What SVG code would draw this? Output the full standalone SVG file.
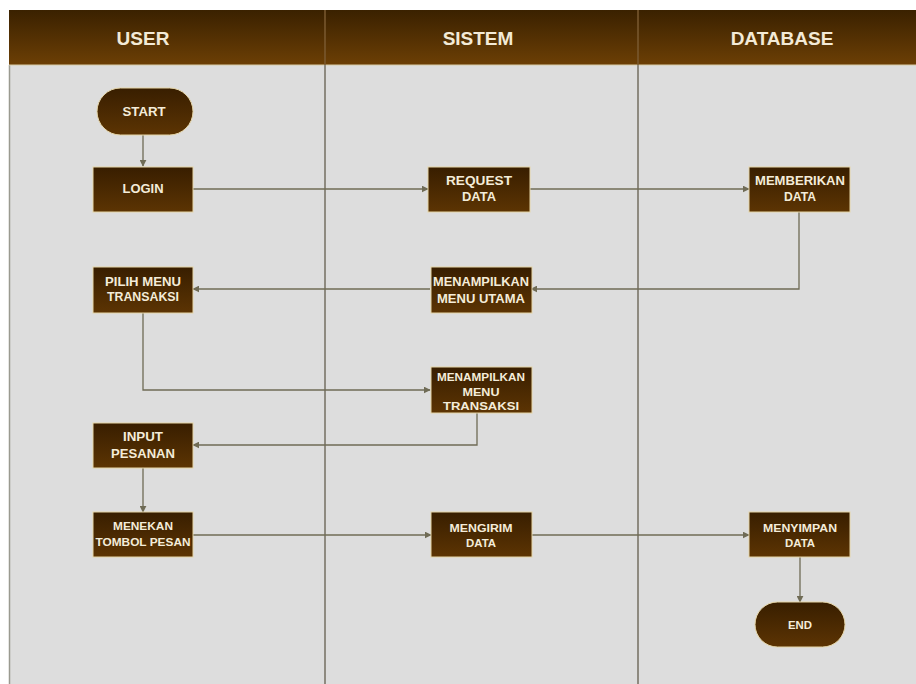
<svg xmlns="http://www.w3.org/2000/svg" width="916" height="684" viewBox="0 0 916 684">
<defs>
<linearGradient id="hdr" x1="0" y1="0" x2="0" y2="1">
<stop offset="0" stop-color="#3a2100"/>
<stop offset="1" stop-color="#6c3f05"/>
</linearGradient>
<linearGradient id="nd" x1="0" y1="0" x2="0" y2="1">
<stop offset="0" stop-color="#381e00"/>
<stop offset="1" stop-color="#5c3403"/>
</linearGradient>
<marker id="ah" viewBox="0 0 10 10" refX="9" refY="5" markerWidth="7" markerHeight="7" markerUnits="userSpaceOnUse" orient="auto">
<path d="M0,0 L10,5 L0,10 z" fill="#6f6b55"/>
</marker>
</defs>
<style>
.node{fill:url(#nd);stroke:#e6d6a8;stroke-width:1}
.lbl{font-family:"Liberation Sans",Arial,sans-serif;font-weight:bold;font-size:12px;fill:#f4ecd9;text-anchor:middle}
.sm{font-size:11px}
.hd{font-family:"Liberation Sans",Arial,sans-serif;font-weight:bold;font-size:19px;fill:#f3ead6;text-anchor:middle}
.cn{fill:none;stroke:#6f6b55;stroke-width:1.3;marker-end:url(#ah)}
.div{stroke:#8e8a80;stroke-width:2}
</style>
<rect x="0" y="0" width="916" height="684" fill="#ffffff"/>
<g id="pool">
<rect x="9" y="65" width="907" height="619" fill="#dddddd"/>
<line x1="9.5" y1="65" x2="9.5" y2="684" stroke="#9a9a90" stroke-width="1.5"/>
<rect x="9" y="10" width="907" height="55" fill="url(#hdr)"/>
<line x1="9" y1="65" x2="916" y2="65" stroke="#d8cba8" stroke-width="1.2"/>
<line x1="325" y1="10" x2="325" y2="65" stroke="#7a5a30" stroke-width="1.5"/>
<line x1="638" y1="10" x2="638" y2="65" stroke="#7a5a30" stroke-width="1.5"/>
<line class="div" x1="325" y1="65" x2="325" y2="684"/>
<line class="div" x1="638" y1="65" x2="638" y2="684"/>
<text class="hd" x="143" y="45">USER</text>
<text class="hd" x="478" y="45">SISTEM</text>
<text class="hd" x="782" y="45">DATABASE</text>
</g>
<g id="connectors">
<path class="cn" d="M143,135 L143,166"/>
<path class="cn" d="M193,189 L428,189"/>
<path class="cn" d="M530,189 L749,189"/>
<path class="cn" d="M799,212 L799,289 L531,289"/>
<path class="cn" d="M430,289 L193,289"/>
<path class="cn" d="M143,313 L143,390 L430,390"/>
<path class="cn" d="M477,413 L477,445 L193,445"/>
<path class="cn" d="M143,468 L143,512"/>
<path class="cn" d="M193,535 L431,535"/>
<path class="cn" d="M532,535 L749,535"/>
<path class="cn" d="M800,557 L800,602"/>
</g>
<g id="start">
<rect class="node" x="97" y="88" width="96" height="47" rx="23.5"/>
<text class="lbl" x="144" y="116" textLength="43" lengthAdjust="spacingAndGlyphs">START</text>
</g>
<g id="login">
<rect class="node" x="93" y="167" width="100" height="45"/>
<text class="lbl" x="143" y="193" textLength="41" lengthAdjust="spacingAndGlyphs">LOGIN</text>
</g>
<g id="request-data">
<rect class="node" x="428" y="167" width="102" height="45"/>
<text class="lbl" x="479" y="185" textLength="66" lengthAdjust="spacingAndGlyphs">REQUEST</text>
<text class="lbl" x="479" y="201" textLength="34" lengthAdjust="spacingAndGlyphs">DATA</text>
</g>
<g id="memberikan-data">
<rect class="node" x="749" y="167" width="101" height="45"/>
<text class="lbl" x="800" y="185" textLength="90" lengthAdjust="spacingAndGlyphs">MEMBERIKAN</text>
<text class="lbl" x="800" y="201" textLength="32" lengthAdjust="spacingAndGlyphs">DATA</text>
</g>
<g id="pilih-menu">
<rect class="node" x="93" y="267" width="100" height="46"/>
<text class="lbl" x="143" y="286" textLength="76" lengthAdjust="spacingAndGlyphs">PILIH MENU</text>
<text class="lbl" x="143" y="301" textLength="72" lengthAdjust="spacingAndGlyphs">TRANSAKSI</text>
</g>
<g id="menu-utama">
<rect class="node" x="431" y="267" width="101" height="46"/>
<text class="lbl" x="481" y="286" textLength="96" lengthAdjust="spacingAndGlyphs">MENAMPILKAN</text>
<text class="lbl" x="481" y="303" textLength="88" lengthAdjust="spacingAndGlyphs">MENU UTAMA</text>
</g>
<g id="menu-transaksi">
<rect class="node" x="431" y="367" width="101" height="46"/>
<text class="lbl sm" x="481" y="381" textLength="88" lengthAdjust="spacingAndGlyphs">MENAMPILKAN</text>
<text class="lbl sm" x="481" y="396" textLength="37" lengthAdjust="spacingAndGlyphs">MENU</text>
<text class="lbl sm" x="481" y="410" textLength="76" lengthAdjust="spacingAndGlyphs">TRANSAKSI</text>
</g>
<g id="input-pesanan">
<rect class="node" x="93" y="423" width="100" height="45"/>
<text class="lbl" x="143" y="441" textLength="40" lengthAdjust="spacingAndGlyphs">INPUT</text>
<text class="lbl" x="143" y="458" textLength="64" lengthAdjust="spacingAndGlyphs">PESANAN</text>
</g>
<g id="menekan-tombol">
<rect class="node" x="93" y="512" width="100" height="45"/>
<text class="lbl sm" x="143" y="530" textLength="60" lengthAdjust="spacingAndGlyphs">MENEKAN</text>
<text class="lbl sm" x="143" y="546" textLength="95" lengthAdjust="spacingAndGlyphs">TOMBOL PESAN</text>
</g>
<g id="mengirim-data">
<rect class="node" x="431" y="512" width="101" height="45"/>
<text class="lbl sm" x="481" y="532" textLength="63" lengthAdjust="spacingAndGlyphs">MENGIRIM</text>
<text class="lbl sm" x="481" y="547" textLength="30" lengthAdjust="spacingAndGlyphs">DATA</text>
</g>
<g id="menyimpan-data">
<rect class="node" x="749" y="512" width="101" height="45"/>
<text class="lbl sm" x="800" y="532" textLength="74" lengthAdjust="spacingAndGlyphs">MENYIMPAN</text>
<text class="lbl sm" x="800" y="547" textLength="30" lengthAdjust="spacingAndGlyphs">DATA</text>
</g>
<g id="end">
<rect class="node" x="755" y="602" width="90" height="45" rx="22.5"/>
<text class="lbl sm" x="800" y="629" textLength="24" lengthAdjust="spacingAndGlyphs">END</text>
</g>
</svg>
